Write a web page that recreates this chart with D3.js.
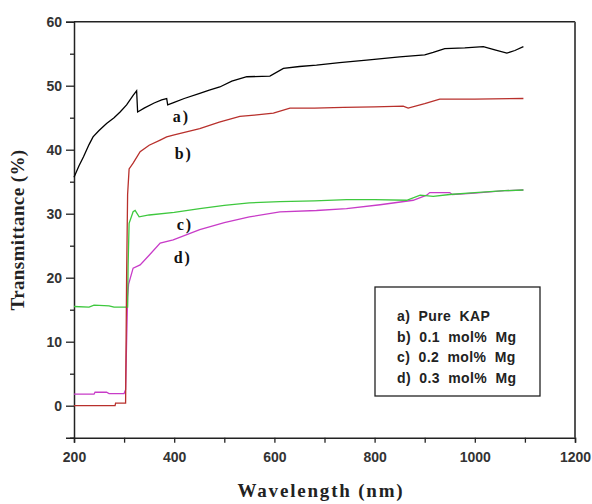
<!DOCTYPE html>
<html>
<head>
<meta charset="utf-8">
<script src="https://cdn.jsdelivr.net/npm/d3@7"></script>
<style>
  body { margin: 0; background: #fff; }
  svg { display: block; }
  .tick text { font-family: Arial, "Liberation Sans", sans-serif; font-weight: bold; font-size: 14px; fill: #333; }
</style>
</head>
<body>
<div id="chart"></div>
<script>
// sample spectra: [wavelength nm, transmittance %]
const pureKAP = [[200,35.7],[210,37.5],[219,38.9],[230,40.8],[238,42],[250,43],[265,44.1],[280,45.0],[292,45.9],[305,47.0],[318,48.5],[325,49.2],[327,45.9],[340,46.5],[360,47.3],[375,47.8],[385,48.0],[387,47.0],[400,47.4],[420,48.0],[451,48.8],[470,49.3],[491,49.8],[515,50.7],[545,51.4],[591,51.5],[618,52.7],[650,53.0],[684,53.2],[730,53.6],[784,54.0],[850,54.5],[900,54.8],[917,55.2],[940,55.8],[980,55.9],[1017,56.1],[1040,55.6],[1064,55.1],[1080,55.5],[1097,56.1]];
const mg01 = [[200,0],[282,0],[283,0.4],[303,0.4],[305,20],[307,33],[310,37],[318,37.9],[332,39.7],[350,40.7],[372,41.5],[385,42],[400,42.3],[451,43.3],[490,44.3],[531,45.2],[560,45.4],[598,45.7],[631,46.5],[680,46.5],[738,46.6],[800,46.7],[857,46.8],[867,46.5],[900,47.2],[930,47.9],[1000,47.9],[1097,48.0]];
const mg02 = [[200,15.5],[230,15.4],[240,15.7],[270,15.6],[280,15.4],[307,15.4],[308,22],[310,28.5],[318,30.3],[322,30.5],[330,29.5],[350,29.8],[400,30.2],[451,30.8],[500,31.3],[550,31.7],[611,31.9],[680,32.0],[744,32.2],[800,32.2],[864,32.1],[891,32.9],[917,32.7],[950,33.0],[1000,33.3],[1060,33.6],[1097,33.7]];
const mg03 = [[200,1.8],[240,1.8],[242,2.1],[265,2.1],[270,1.9],[300,1.9],[303,2.5],[305,10],[307,17],[309,19],[318,21.5],[332,22],[350,23.5],[372,25.4],[398,25.9],[451,27.5],[500,28.6],[550,29.5],[611,30.3],[684,30.5],[744,30.8],[811,31.4],[877,32.1],[904,32.9],[910,33.3],[950,33.3],[955,33.0],[1000,33.2],[1060,33.6],[1097,33.7]];

const seriesNames = ["a) Pure KAP", "b) 0.1 mol% Mg", "c) 0.2 mol% Mg", "d) 0.3 mol% Mg"];
const curveLabels = ["a)", "b)", "c)", "d)"];
const xTicks = [200, 400, 600, 800, 1000, 1200];
const yTicks = [0, 10, 20, 30, 40, 50, 60];

const width = 592, height = 504;
const svg = d3.select("#chart").append("svg")
  .attr("width", width).attr("height", height);

const x = d3.scaleLinear().domain([200, 1200]).range([74, 575]);
const y = d3.scaleLinear().domain([-5, 60]).range([437.7, 21.7]);

// frame top + right
svg.append("line").attr("x1", 74).attr("x2", 575).attr("y1", y(60)).attr("y2", y(60))
  .attr("stroke", "#222").attr("stroke-width", 1.5);
svg.append("line").attr("x1", 575).attr("x2", 575).attr("y1", y(60)).attr("y2", y(-5))
  .attr("stroke", "#555").attr("stroke-width", 2);

// x axis
const xAxis = svg.append("g").attr("transform", `translate(0,${y(-5)})`)
  .call(d3.axisBottom(x).tickValues(d3.range(200, 1201, 100)).tickSize(5).tickPadding(9)
    .tickFormat(d => xTicks.includes(d) ? d : ""));
xAxis.select(".domain").attr("stroke", "#222").attr("stroke-width", 1.5);
xAxis.selectAll(".tick line").attr("stroke", "#222").attr("stroke-width", 1.3);

// y axis
const yAxis = svg.append("g").attr("transform", `translate(74,0)`)
  .call(d3.axisLeft(y).tickValues(d3.range(-5, 61, 5)).tickSize(8).tickPadding(4)
    .tickFormat(d => yTicks.includes(d) ? d : ""));
yAxis.select(".domain").attr("stroke", "#222").attr("stroke-width", 1.5);
yAxis.selectAll(".tick line").attr("stroke", "#222").attr("stroke-width", 1.3)
  .attr("x2", d => yTicks.includes(d) ? -8 : -4);

// lines
const line = d3.line().x(d => x(d[0])).y(d => y(d[1]));
const series = [
  { data: mg03, color: "#c83cc8" },
  { data: mg02, color: "#3ec83e" },
  { data: mg01, color: "#b8302c" },
  { data: pureKAP, color: "#000" }
];
svg.selectAll(".series").data(series).enter().append("path")
  .attr("d", d => line(d.data))
  .attr("fill", "none")
  .attr("stroke", d => d.color)
  .attr("stroke-width", 1.3);

// curve labels
const labelPos = [[397, 44.3], [401, 38.5], [405, 27.4], [399, 22.3]];
svg.selectAll(".clab").data(curveLabels).enter().append("text")
  .attr("x", (d, i) => x(labelPos[i][0]))
  .attr("y", (d, i) => y(labelPos[i][1]))
  .attr("font-family", "'Liberation Serif', 'Times New Roman', serif")
  .attr("font-weight", "bold").attr("font-size", 16).attr("fill", "#111")
  .attr("letter-spacing", 2)
  .text(d => d);

// legend
const lg = svg.append("g");
lg.append("rect").attr("x", 375).attr("y", 287).attr("width", 165).attr("height", 109)
  .attr("fill", "#fff").attr("stroke", "#222").attr("stroke-width", 1.3);
lg.selectAll("text").data(seriesNames).enter().append("text")
  .attr("x", 397).attr("y", (d, i) => 321 + i * 20.7)
  .attr("font-family", "Arial, 'Liberation Sans', sans-serif")
  .attr("font-weight", "bold").attr("font-size", 14).attr("fill", "#222")
  .attr("letter-spacing", 0.4).attr("word-spacing", 4)
  .text(d => d);

// axis titles
svg.append("text").attr("x", 321).attr("y", 497).attr("text-anchor", "middle")
  .attr("font-family", "'Liberation Serif', 'Times New Roman', serif")
  .attr("font-weight", "bold").attr("font-size", 19).attr("fill", "#222")
  .attr("letter-spacing", 1.8)
  .text("Wavelength (nm)");
svg.append("text").attr("transform", "translate(24,230) rotate(-90)").attr("text-anchor", "middle")
  .attr("font-family", "'Liberation Serif', 'Times New Roman', serif")
  .attr("font-weight", "bold").attr("font-size", 19).attr("fill", "#222")
  .attr("letter-spacing", 0.4)
  .text("Transmittance (%)");
</script>
</body>
</html>
